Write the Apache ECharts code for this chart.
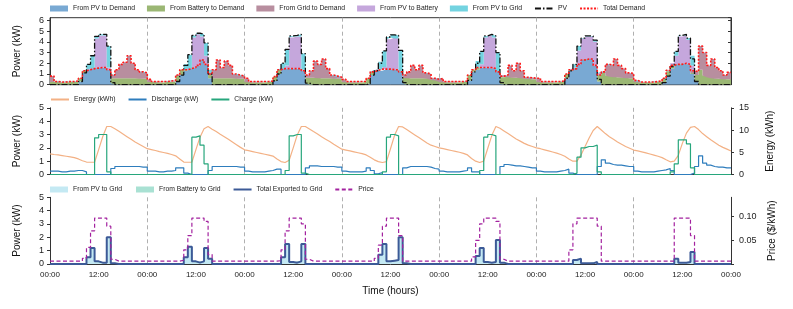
<!DOCTYPE html>
<html><head><meta charset="utf-8">
<script src="https://cdn.jsdelivr.net/npm/echarts@6/dist/echarts.min.js"></script>
<style>html,body{margin:0;padding:0;background:#fff}#c{width:793px;height:309px}</style>
</head><body><div id="c"></div>
<script>
// hourly values, 7 days x 24 h (value holds over [h, h+1))
const pvToDemand = [
 0,0,0,0,0,0,0,0.3,1.1,1.4,1.5,1.55,1.6,1.6,1.4,0.15,0,0,0,0,0,0,0,0,
 0,0,0,0,0,0,0,0.3,0.9,1.3,1.5,1.6,1.8,2.3,1.9,0.6,0,0,0,0,0,0,0,0,
 0,0,0,0,0,0,0,0.35,1.0,1.5,1.5,1.5,1.5,1.5,1.3,0.15,0,0,0,0,0,0,0,0,
 0,0,0,0,0,0,0.1,0.9,1.3,1.3,1.45,1.45,1.4,1.4,1.2,0.15,0,0,0,0,0,0,0,0,
 0,0,0,0,0,0,0,0.4,1.2,1.4,1.6,1.6,1.6,1.5,1.2,0.1,0,0,0,0,0,0,0,0,
 0,0,0,0,0,0,0,0.6,1.3,1.5,1.9,2.3,2.4,2.4,1.8,0.3,0,0,0,0,0,0,0,0,
 0,0,0,0,0,0,0,0.2,0.8,1.5,1.9,1.9,2.0,1.9,1.0,0.3,0,0,0,0,0,0,0,0];
const batteryToDemand = [
 .25,.25,.2,.2,.25,.25,.3,.3,.2,0,0,0,0,0,0,.45,.6,.6,.6,.6,.6,.6,.55,.55,
 .25,.25,.2,.2,.25,.25,.3,.5,.5,.1,0,0,0,0,0,.3,.6,.6,.6,.6,.6,.6,.55,.55,
 .25,.2,.2,.2,.2,.25,.3,.4,.4,0,0,0,0,0,0,.5,.65,.65,.6,.6,.6,.6,.55,.55,
 .25,.2,.2,.2,.2,.25,.5,.3,.05,.15,0,0,0,0,0,.5,.6,.6,.6,.6,.6,.55,.45,.4,
 .25,.2,.2,.2,.2,.25,.3,.5,.2,.2,0,0,0,0,0,.6,.75,.7,.65,.65,.6,.55,.5,.5,
 .25,.2,.2,.2,.2,.25,.3,.4,.1,0,0,0,0,0,0,.6,1.1,.85,.75,.7,.7,.65,.6,.6,
 .25,.2,.2,.2,.2,.25,.3,.35,.45,.3,0,0,0,0,.1,.6,1.4,.85,.7,.6,.55,.55,.5,.5];
const gridToDemand = [
 .55,.05,.05,.05,.05,.05,.05,0,0,0,0,0,0,0,0,.3,.8,1.3,1.5,2.1,1.4,.8,.65,.55,
 .25,.05,.1,.1,.05,.1,.1,.1,0,0,0,0,0,0,0,.1,.8,1.7,1.0,1.6,1.2,.4,.35,.25,
 .35,.1,.1,.1,.1,.05,.05,0,0,0,0,0,0,0,0,.25,.65,1.55,1.3,1.8,.9,.3,.25,.15,
 .25,.1,.1,.1,.1,.05,0,0,0,0,0,0,0,0,0,.25,.6,1.2,.8,1.2,.5,.45,.15,.1,
 .35,.1,.1,.1,.1,.05,.05,0,0,0,0,0,0,0,0,.1,.15,1.1,.65,1.35,.7,.15,.15,.1,
 .35,.1,.1,.1,.1,.05,.05,0,0,0,0,0,0,0,0,0,.1,1.05,1.05,1.7,1.1,.85,.5,.45,
 .15,.05,.05,.05,.05,.05,.05,.05,.1,0,0,0,0,0,.2,.3,2.2,2.15,1.1,1.8,1.05,.75,.4,.65];
const pvToBattery = [
 0,0,0,0,0,0,0,0,0,0,0,2.75,3.0,3.0,0.2,0,0,0,0,0,0,0,0,0,
 0,0,0,0,0,0,0,0,0,0,0,2.8,2.9,2.2,0.8,0,0,0,0,0,0,0,0,0,
 0,0,0,0,0,0,0,0,0,0,0.3,2.9,3.0,3.0,0.1,0,0,0,0,0,0,0,0,0,
 0,0,0,0,0,0,0,0,0,0,0.2,2.8,3.0,2.9,0,0,0,0,0,0,0,0,0,0,
 0,0,0,0,0,0,0,0,0,0,0.3,2.8,3.0,2.9,0,0,0,0,0,0,0,0,0,0,
 0,0,0,0,0,0,0,0,0,0.1,1.3,2.0,2.1,2.1,2.2,0.2,0,0,0,0,0,0,0,0,
 0,0,0,0,0,0,0,0,0,0.2,0.8,2.6,2.6,2.3,0.5,0,0,0,0,0,0,0,0,0];
const pvToGrid = [
 0,0,0,0,0,0,0,0,0,0.5,1.2,0.2,0.1,0.1,2.0,0.05,0,0,0,0,0,0,0,0,
 0,0,0,0,0,0,0,0,0,0.5,1.3,0.2,0.1,0.2,1.2,0.4,0,0,0,0,0,0,0,0,
 0,0,0,0,0,0,0,0,0,0.5,1.5,0.15,0.1,0.2,1.5,0,0,0,0,0,0,0,0,0,
 0,0,0,0,0,0,0,0,0,0.7,1.5,0.2,0.25,0.3,2.0,0.05,0,0,0,0,0,0,0,0,
 0,0,0,0,0,0,0,0,0,0.6,1.2,0.15,0.1,0.15,1.8,0.1,0,0,0,0,0,0,0,0,
 0,0,0,0,0,0,0,0,0,0.3,0.4,0.05,0.05,0.05,0.15,0,0,0,0,0,0,0,0,0,
 0,0,0,0,0,0,0,0,0,0,0.4,0.1,0.1,0.15,0.9,0,0,0,0,0,0,0,0,0];
const batteryToGrid = [
 0,0,0,0,0,0,0,0,0,0,0,0,0,0,0,0,0,0,0,0,0,0,0,0,
 0,0,0,0,0,0,0,0,0,0,0,0,0,0,0,0,0,0,0,0,0,0,0,0,
 0,0,0,0,0,0,0,0,0,0,0,0,0,0,0,0,0,0,0,0,0,0,0,0,
 0,0,0,0,0,0,0,0,0,0,0,0,0,0,0,0,0,0,0,0,0,0,0,0,
 0,0,0,0,0,0,0,0,0,0,0,0,0,0,0,0,0,0,0,0,0,0,0,0,
 0,0,0,0,0,0,0,0,0,0,0,0,0,0,0,0,0,0,0,0,0,0,0,0,
 0,0,0,0,0,0,0,0,0,0,0,0,0,0,0,0,0,0,0,0,0,0,0,0];
// battery energy (kWh) at each hour mark, 0..168
const energyKWh = [
 4.65,4.5,4.4,4.25,4.1,3.95,3.8,3.5,3.1,2.8,2.75,2.75,5.6,8.5,10.8,10.8,10.3,9.7,9.1,8.5,7.9,7.3,6.8,6.3,
 5.8,5.6,5.4,5.15,4.95,4.75,4.5,4.2,3.5,2.8,2.75,2.75,5.6,8.4,10.3,10.8,10.2,9.65,9.05,8.5,7.9,7.3,6.7,6.1,
 5.55,5.35,5.15,4.95,4.75,4.55,4.35,4.15,3.5,2.9,2.7,3.2,6.0,8.9,10.8,10.8,10.25,9.65,9.1,8.5,7.95,7.4,6.8,6.25,
 5.7,5.5,5.3,5.1,4.9,4.7,4.4,3.9,3.3,2.9,2.7,2.9,5.8,8.8,10.8,10.7,10.1,9.5,8.9,8.3,7.7,7.1,6.6,6.3,
 6.0,5.8,5.6,5.4,5.2,5.0,4.75,4.4,3.6,3.0,2.7,3.0,5.9,8.8,10.8,10.4,9.8,9.2,8.6,8.0,7.5,7.0,6.6,6.3,
 6.0,5.8,5.55,5.3,5.05,4.8,4.5,4.1,3.5,3.0,3.0,4.4,6.3,8.2,9.9,10.8,10.0,9.2,8.5,7.9,7.3,6.8,6.3,5.9,
 5.5,5.3,5.1,4.85,4.6,4.35,4.1,3.8,3.3,2.85,3.0,4.3,7.0,9.3,10.6,10.8,10.1,9.2,8.5,7.8,7.2,6.6,6.1,5.7,
 5.3];
const price = [
 .006,.006,.006,.006,.006,.006,.006,.006,.012,.035,.07,.097,.097,.097,.08,.01,.006,.006,.006,.006,.006,.006,.006,.006,
 .006,.006,.006,.006,.006,.006,.006,.006,.008,.03,.06,.097,.097,.097,.09,.02,.006,.006,.006,.006,.006,.006,.006,.006,
 .006,.006,.006,.006,.006,.006,.006,.006,.007,.03,.07,.097,.097,.097,.085,.01,.006,.006,.006,.006,.006,.006,.006,.006,
 .006,.006,.006,.006,.006,.006,.006,.006,.012,.04,.08,.097,.097,.097,.06,.006,.006,.006,.006,.006,.006,.006,.006,.006,
 .006,.006,.006,.006,.006,.006,.006,.006,.015,.05,.085,.097,.097,.097,.09,.01,.006,.006,.006,.006,.006,.006,.006,.006,
 .006,.006,.006,.006,.006,.006,.006,.006,.03,.085,.097,.097,.097,.097,.097,.08,.006,.006,.006,.006,.006,.006,.006,.006,
 .006,.006,.006,.006,.006,.006,.006,.006,.006,.006,.097,.097,.097,.097,.06,.006,.006,.006,.006,.006,.006,.006,.006,.006];
const xTickLabels = ['00:00','12:00'];
const powerTicks = [0,1,2,3,4,5,6];

// hour marks 0..168 used as categories
const hourMarks = energyKWh.map((_, i) => i);

function addArr(...arrs){ return arrs[0].map((_,i)=>+arrs.reduce((s,a)=>s+a[i],0).toFixed(3)); }
// step 'end': value i holds from hour i to i+1; repeat last so the final hour is drawn
function stepData(arr){ return arr.concat([arr[arr.length-1]]); }

const pvTotal = addArr(pvToDemand, pvToBattery, pvToGrid);
const demandTotal = addArr(pvToDemand, batteryToDemand, gridToDemand);
const discharge = addArr(batteryToDemand, batteryToGrid);
const exported = addArr(pvToGrid, batteryToGrid);

const FONT = 'Liberation Sans';
const axisCol = '#333';
const L = 50, R = 62;
const midnight = i => i % 24 === 0 && i > 0 && i < 168;
const dash = {show:true, interval:(i)=>midnight(i), lineStyle:{color:'#b0b0b0', width:1, type:[4,3]}};

function area(name, data, color, x, y, stack){
  return {name, type:'line', xAxisIndex:x, yAxisIndex:y, stack, step:'end', data:stepData(data),
    symbol:'none', showSymbol:false, color, itemStyle:{color}, lineStyle:{width:0},
    areaStyle:{color, opacity:1}, z:2};
}
function sline(name, data, color, x, y, width, type, step, z){
  return {name, type:'line', xAxisIndex:x, yAxisIndex:y, step: step ? 'end' : false,
    data: step ? stepData(data) : data, symbol:'none', showSymbol:false, color,
    itemStyle:{color}, lineStyle:{color, width, type}, z: z||3};
}

const legendBase = {left:L, padding:0, itemWidth:18, itemHeight:6, itemGap:12,
  textStyle:{fontSize:6.8, fontFamily:FONT, color:'#222'}};
const lineItem = name => ({name, itemStyle:{opacity:0}});

const xBase = (grid, extra) => Object.assign({
  type:'category', gridIndex:grid, data:hourMarks, boundaryGap:false,
  axisLabel:{show:false}, axisTick:{show:false},
  axisLine:{show:true, lineStyle:{color:axisCol}}, splitLine:dash
}, extra||{});

const yBase = (grid, pos, max, interval, name, nameGap, extra) => Object.assign({
  type:'value', gridIndex:grid, position:pos, min:0, max, interval,
  name, nameLocation:'middle', nameGap,
  nameTextStyle:{fontSize:10, fontFamily:FONT, color:'#111'},
  axisLine:{show:true, lineStyle:{color:axisCol, width:1}},
  axisTick:{show:true, length:3, inside:false, lineStyle:{color:axisCol}},
  axisLabel:{fontSize:9, fontFamily:FONT, color:'#222', margin:6},
  splitLine:{show:false}
}, extra||{});

const option = {
  animation:false,
  backgroundColor:'#fff',
  grid:[
    {left:L, right:R, top:17.7, height:67, show:true, borderColor:axisCol, borderWidth:1, backgroundColor:'transparent'},
    {left:L, right:R, top:107.8, height:66.7},
    {left:L, right:R, top:197.3, height:66.7}
  ],
  legend:[
    Object.assign({}, legendBase, {top:5, data:[
      {name:'From PV to Demand', icon:'rect'},
      {name:'From Battery to Demand', icon:'rect'},
      {name:'From Grid to Demand', icon:'rect'},
      {name:'From PV to Battery', icon:'rect'},
      {name:'From PV to Grid', icon:'rect'},
      lineItem('PV'), lineItem('Total Demand')]}),
    Object.assign({}, legendBase, {top:96, data:[lineItem('Energy (kWh)'), lineItem('Discharge (kW)'), lineItem('Charge (kW)')]}),
    Object.assign({}, legendBase, {top:186, data:[
      {name:'From PV to Grid ', icon:'rect'},
      {name:'From Battery to Grid', icon:'rect'},
      lineItem('Total Exported to Grid'), lineItem('Price')]})
  ],
  xAxis:[
    xBase(0),
    xBase(1),
    xBase(2, {
      axisLabel:{show:true, fontSize:8, fontFamily:FONT, color:'#222', margin:7,
        interval:(i)=> i % 12 === 0,
        formatter:(v, i) => xTickLabels[(i % 24 === 0) ? 0 : 1]},
      name:'Time (hours)', nameLocation:'middle', nameGap:22,
      nameTextStyle:{fontSize:10, fontFamily:FONT, color:'#111'}})
  ],
  yAxis:[
    yBase(0,'left',6.25,1,'Power (kW)',28,{axisLabel:{fontSize:9, fontFamily:FONT, color:'#222', margin:6, showMaxLabel:false,
      formatter:v => powerTicks.includes(v) ? String(v) : ''}}),
    yBase(0,'right',6.25,1,'',0,{axisLabel:{show:false}, axisTick:{show:true, inside:true, length:3, lineStyle:{color:axisCol}}}),
    yBase(1,'left',5,1,'Power (kW)',28),
    yBase(1,'right',15,5,'Energy (kWh)',34,{axisLabel:{fontSize:9, fontFamily:FONT, color:'#222', margin:8}}),
    yBase(2,'left',5,1,'Power (kW)',28),
    yBase(2,'right',0.141,0.05,'Price ($/kWh)',34,{axisLabel:{fontSize:9, fontFamily:FONT, color:'#222', margin:8,
      showMaxLabel:false, formatter:v => (v > 0 && v < 0.14) ? v.toFixed(2) : ''}})
  ],
  series:[
    area('From PV to Demand', pvToDemand, '#79a9d3', 0, 0, 'top'),
    area('From Battery to Demand', batteryToDemand, '#9bb774', 0, 0, 'top'),
    area('From Grid to Demand', gridToDemand, '#b88e9f', 0, 0, 'top'),
    area('From PV to Battery', pvToBattery, '#c5a7dc', 0, 0, 'top'),
    area('From PV to Grid', pvToGrid, '#73d3e0', 0, 0, 'top'),
    sline('PV', pvTotal, '#111', 0, 0, 1.3, [6,2,1.5,2], true, 4),
    sline('Total Demand', demandTotal, '#ff1a1a', 0, 0, 1.6, [2,1.5], true, 5),

    sline('Energy (kWh)', energyKWh, '#f3b185', 1, 3, 1.2, 'solid', false),
    sline('Discharge (kW)', discharge, '#2e7dbd', 1, 2, 1.2, 'solid', true),
    sline('Charge (kW)', pvToBattery, '#27a67c', 1, 2, 1.2, 'solid', true, 4),

    area('From PV to Grid ', pvToGrid, '#c4e9f3', 2, 4, 'bot'),
    area('From Battery to Grid', batteryToGrid, '#a9e1d3', 2, 4, 'bot'),
    sline('Total Exported to Grid', exported, '#3c5a97', 2, 4, 2, 'solid', true, 4),
    sline('Price', price, '#a3229f', 2, 5, 1.2, [4,2.5], true, 5)
  ]
};
const chart = echarts.init(document.getElementById('c'), null, {renderer:'canvas'});
chart.setOption(option);
</script></body></html>
